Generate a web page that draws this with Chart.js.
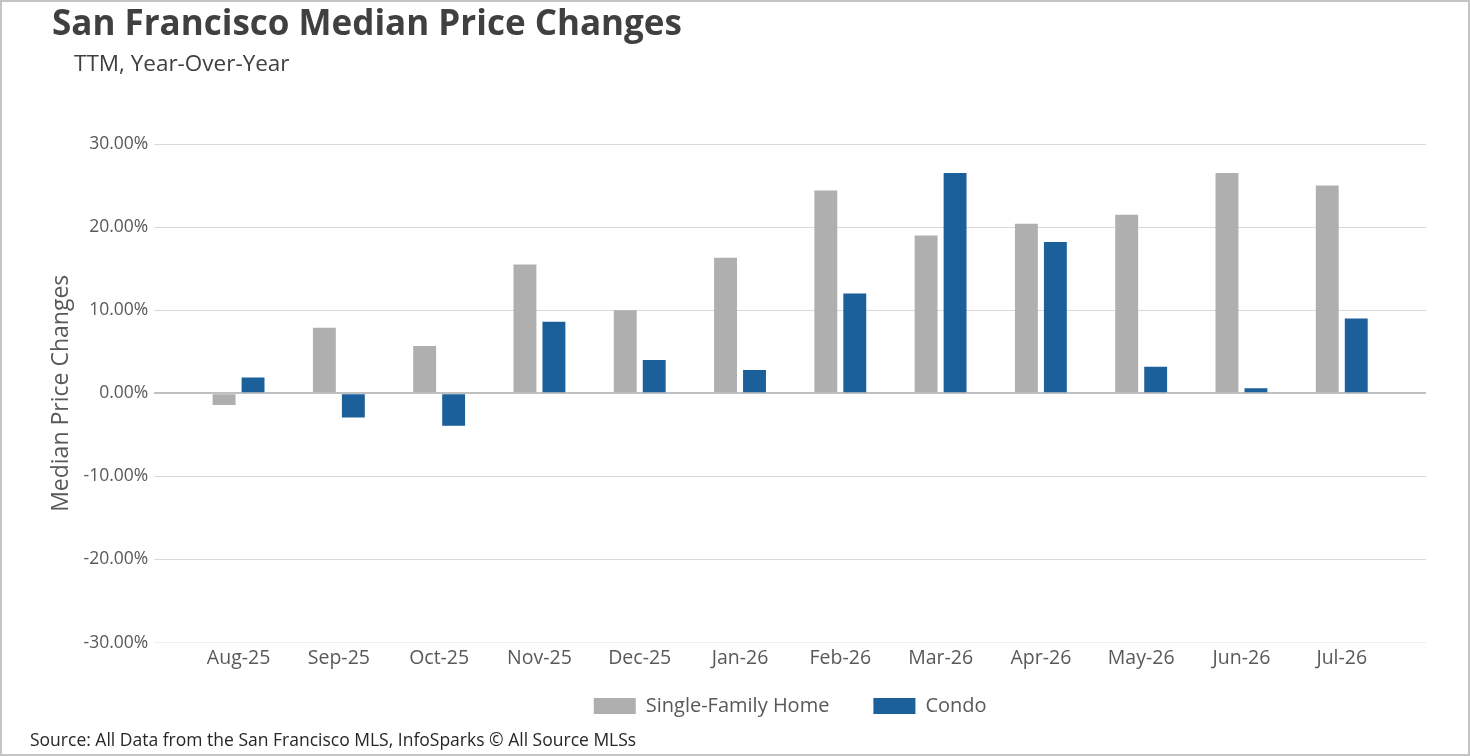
<!DOCTYPE html>
<html>
<head>
<meta charset="utf-8">
<script src="https://cdn.jsdelivr.net/npm/chart.js@4"></script>
<style>
  html, body { margin: 0; padding: 0; background: #fff; }
  #frame {
    position: relative; width: 1466px; height: 752px;
    border: 2px solid #c4c4c4; overflow: hidden;
    font-family: "Open Sans", sans-serif;
  }
  #chartBox { position: absolute; left: 0; top: 0; width: 1466px; height: 752px; }
  .title { position: absolute; left: 50px; top: -4px; font-size: 35px; font-weight: bold; color: #404040; white-space: nowrap; }
  .sub { position: absolute; left: 72px; top: 45px; font-size: 22.5px; color: #404040; white-space: nowrap; }
  .src { position: absolute; left: 28px; top: 725px; font-size: 17.5px; color: #262626; white-space: nowrap; }
</style>
</head>
<body>
<div id="frame">
  <div id="chartBox"><canvas id="myChart"></canvas></div>
  <div class="title">San Francisco Median Price Changes</div>
  <div class="sub">TTM, Year-Over-Year</div>
  <div class="src">Source: All Data from the San Francisco MLS, InfoSparks © All Source MLSs</div>
</div>
<script>
// months along the x axis
const months = ['Aug-25', 'Sep-25', 'Oct-25', 'Nov-25', 'Dec-25', 'Jan-26',
                'Feb-26', 'Mar-26', 'Apr-26', 'May-26', 'Jun-26', 'Jul-26'];

// year-over-year change, percent
const singleFamily = [-1.4, 7.9, 5.7, 15.5, 10.0, 16.3, 24.4, 19.0, 20.4, 21.5, 26.5, 25.0];
const condo        = [ 1.9, -2.9, -3.9, 8.6, 4.0, 2.8, 12.0, 26.5, 18.2, 3.2, 0.6, 9.0];

const yTicks = [-30, -20, -10, 0, 10, 20, 30];

const toPoints = arr => arr.map((v, i) => ({ x: i, y: v }));

// legend sits centred under the plot area and closer to the axis labels
const legendGap = 22;
const placeLegend = {
  id: 'placeLegend',
  afterLayout(chart) {
    const lg = chart.legend, a = chart.chartArea;
    const dx = (a.left + a.right) / 2 - (lg.left + lg.right) / 2;
    lg.left += dx;
    lg.right += dx;
    const dy = chart.scales.x.bottom + legendGap - lg.options.labels.padding - lg.top;
    lg.top += dy;
    lg.bottom += dy;
  }
};

const ctx = document.getElementById('myChart');

new Chart(ctx, {
  type: 'bar',
  data: {
    datasets: [{
      label: 'Single-Family Home',
      data: toPoints(singleFamily),
      backgroundColor: '#afafaf',
      barPercentage: 0.79,
      categoryPercentage: 0.578
    }, {
      label: 'Condo',
      data: toPoints(condo),
      backgroundColor: '#1b5f9b',
      barPercentage: 0.79,
      categoryPercentage: 0.578
    }]
  },
  plugins: [placeLegend],
  options: {
    responsive: true,
    maintainAspectRatio: false,
    animation: false,
    layout: { padding: { top: 142, left: 39, right: 42, bottom: 6 } },
    plugins: {
      legend: {
        position: 'bottom',
        labels: {
          boxWidth: 42, boxHeight: 16, padding: 44,
          color: '#595959',
          font: { family: 'Open Sans', size: 20 }
        }
      },
      tooltip: { enabled: false }
    },
    scales: {
      x: {
        type: 'linear',
        offset: false,
        min: -0.84, max: 11.84,
        afterBuildTicks: scale => { scale.ticks = months.map((m, i) => ({ value: i })); },
        grid: { display: false, drawTicks: false },
        border: { display: false },
        ticks: {
          padding: 4,
          autoSkip: false,
          maxRotation: 0,
          color: '#595959',
          font: { family: 'Open Sans', size: 19.5 },
          callback: v => months[v]
        }
      },
      y: {
        min: -30, max: 30,
        afterBuildTicks: scale => { scale.ticks = yTicks.map(v => ({ value: v })); },
        border: { display: false },
        grid: {
          drawTicks: false,
          color: c => c.tick.value === 0 ? '#c0c0c0' : (c.tick.value === -30 ? '#f0f0f0' : '#d9d9d9'),
          lineWidth: c => c.tick.value === 0 ? 2 : 1
        },
        ticks: {
          padding: 6,
          color: '#595959',
          font: { family: 'Open Sans', size: 17.5 },
          callback: v => v.toFixed(2) + '%'
        },
        title: {
          display: true,
          text: 'Median Price Changes',
          color: '#595959',
          font: { family: 'Open Sans', size: 23 },
          padding: { top: 7, bottom: 2 }
        }
      }
    }
  }
});
</script>
</body>
</html>
